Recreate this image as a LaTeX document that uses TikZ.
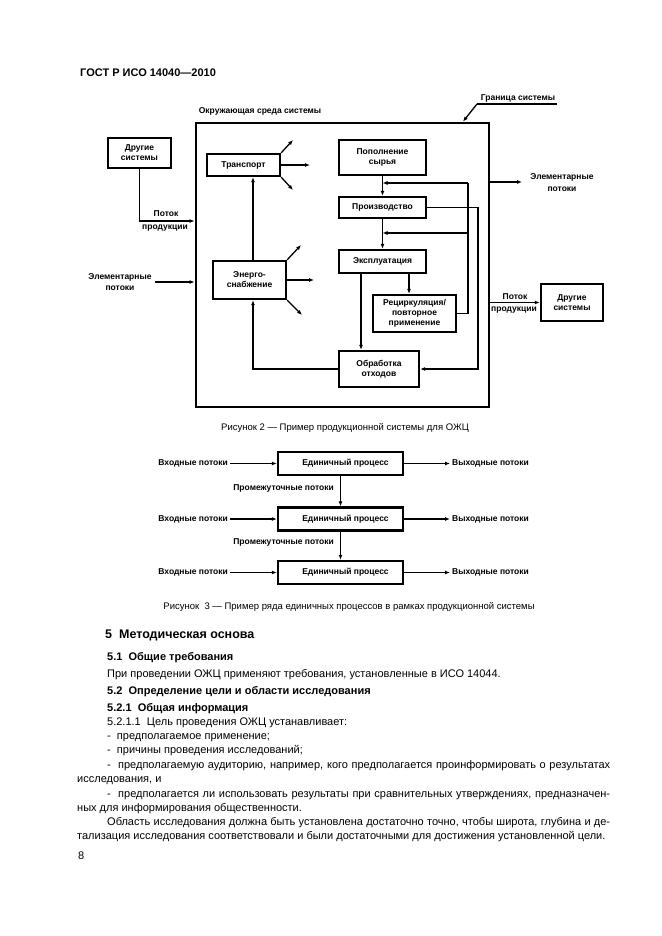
\documentclass[tikz,border=0pt]{standalone}
\usepackage{fontspec}
\setmainfont{Liberation Sans}
\usetikzlibrary{arrows.meta,calc}
\begin{document}
\begin{tikzpicture}[x=1pt,y=-1pt,
  blk/.style={draw, line width=2.3pt, inner sep=1pt, font=\fontsize{8.5}{10}\selectfont\bfseries, align=center},
  lbl/.style={inner sep=0pt, font=\fontsize{8.5}{11.5}\selectfont\bfseries, align=center},
  conn/.style={line width=1.3pt},
  arr/.style={conn, -{Latex[length=5pt,width=4pt]}},
  capt/.style={inner sep=0pt, font=\fontsize{9.5}{11}\selectfont},
  body/.style={inner sep=0pt, anchor=base west, font=\fontsize{11}{14}\selectfont},
  hd/.style={inner sep=0pt, anchor=base west, font=\fontsize{11}{14}\selectfont\bfseries},
]
\fill[white] (0,0) rectangle (661,936);
\useasboundingbox (0,0) rectangle (661,936);

% header
\node[hd] (hdr) at (80,77) {ГОСТ Р ИСО 14040—2010};

% ---------------- Figure 2 ----------------
\node[draw, line width=2.8pt, minimum width=293pt, minimum height=284pt, inner sep=0pt] (sys) at (342.5,265) {};
\node[lbl] (env) at (260,111) {Окружающая среда системы};
\node[lbl] (bnd) at (518,98) {Граница системы};
\coordinate (gb1) at (557,104);
\coordinate (gb2) at (477,104);
\coordinate (gbx) at (463,0);
\draw[conn] (gb1) -- (gb2);
\draw[arr] (gb2) -- (sys.north -| gbx);

\node[blk, minimum width=63pt, minimum height=30pt] (oth1) at (139.5,153) {Другие\\системы};
\node[blk, minimum width=73pt, minimum height=22pt] (transp) at (243.5,165) {Транспорт};
\node[blk, minimum width=73pt, minimum height=38pt] (energy) at (249.5,280) {Энерго-\\снабжение};
\node[blk, minimum width=87pt, minimum height=35pt] (supply) at (382.5,157.5) {Пополнение\\сырья};
\node[blk, minimum width=87pt, minimum height=21pt] (prod) at (382.5,207.5) {Производство};
\node[blk, minimum width=87pt, minimum height=23pt] (expl) at (382.5,261.5) {Эксплуатация};
\node[blk, minimum width=83pt, minimum height=37pt] (recyc) at (414.5,313.5) {Рециркуляция/\\повторное\\применение};
\node[blk, minimum width=80pt, minimum height=36pt] (waste) at (379,369) {Обработка\\отходов};
\node[blk, minimum width=62pt, minimum height=37pt] (oth2) at (572,302.5) {Другие\\системы};

% left product flow
\coordinate (yPL) at (0,221);
\draw[arr] (oth1.south) |- (sys.west |- yPL);
\node[lbl] (pl1) at (166,214) {Поток};
\node[lbl] (pl2) at (165,228) {продукции};

% left elementary flows
\node[lbl] (elLl) at (120,282) {Элементарные\\потоки};
\coordinate (elL) at (155,282);
\draw[arr] (elL) -- (sys.west |- elL);

% transport arrows
\coordinate (t1) at (293,140);
\coordinate (t2) at (310,165);
\coordinate (t3) at (293,190);
\draw[arr] (transp.north east) -- (t1);
\draw[arr] (transp.east) -- (t2);
\draw[arr] (transp.south east) -- (t3);

% energy arrows
\coordinate (e1) at (301,245);
\coordinate (e2) at (314,280);
\coordinate (e3) at (302,315);
\draw[arr] (energy.north east) -- (e1);
\draw[arr] (energy.east) -- (e2);
\draw[arr] (energy.south east) -- (e3);

% energy -> transport, waste -> energy
\coordinate (tl) at (253,0);
\draw[arr] (energy.north -| tl) -- (transp.south -| tl);
\draw[arr] (waste.west) -| (energy.south -| tl);

% chain
\draw[arr] (supply.south) -- (prod.north);
\draw[arr] (prod.south) -- (expl.north);
\coordinate (xr) at (409,0);
\coordinate (xw) at (361,0);
\draw[arr] (expl.south -| xr) -- (recyc.north -| xr);
\draw[arr] (expl.south -| xw) -- (waste.north -| xw);

% recycling loops
\coordinate (ly1) at (468,183);
\coordinate (ly2) at (468,233);
\draw[conn] (recyc.east) -| (ly1);
\draw[arr] (ly1) -- (ly1 -| supply.south);
\draw[arr] (ly2) -- (ly2 -| prod.south);

% production -> waste
\coordinate (rx2) at (478,0);
\draw[arr] (prod.east) -| (rx2 |- waste.east) -- (waste.east);

% right elementary flows
\coordinate (elR) at (522,182);
\draw[arr] (sys.east |- elR) -- (elR);
\node[lbl] (elRl) at (562,182.5) {Элементарные\\потоки};

% right product flow
\draw[arr] (sys.east |- oth2.west) -- (oth2.west);
\node[lbl] (pr1) at (515,296.5) {Поток};
\node[lbl] (pr2) at (514,310) {продукции};

\node[capt] (cap2) at (345,428) {Рисунок 2 — Пример продукционной системы для ОЖЦ};

% ---------------- Figure 3 ----------------
\node[blk, minimum width=125pt, minimum height=23pt] (p1) at (340.5,463.5) {\hspace{10pt}Единичный процесс};
\node[blk, minimum width=125pt, minimum height=23pt] (p2) at (340.5,519) {\hspace{10pt}Единичный процесс};
\node[blk, minimum width=125pt, minimum height=23pt] (p3) at (340.5,572.5) {\hspace{10pt}Единичный процесс};
\draw[arr] (p1.south) -- (p2.north);
\draw[arr] (p2.south) -- (p3.north);
\node[lbl, anchor=east] (m1) at (334,488) {Промежуточные потоки};
\node[lbl, anchor=east] (m2) at (334,542) {Промежуточные потоки};

\node[lbl, anchor=east] (i1) at (228,463.5) {Входные потоки};
\node[lbl, anchor=east] (i2) at (228,519) {Входные потоки};
\node[lbl, anchor=east] (i3) at (228,572.5) {Входные потоки};
\node[lbl, anchor=west] (o1) at (452,463.5) {Выходные потоки};
\node[lbl, anchor=west] (o2) at (452,519) {Выходные потоки};
\node[lbl, anchor=west] (o3) at (452,572.5) {Выходные потоки};
\draw[arr] ([xshift=2pt]i1.east) -- (p1.west);
\draw[arr] ([xshift=2pt]i2.east) -- (p2.west);
\draw[arr] ([xshift=2pt]i3.east) -- (p3.west);
\draw[arr] (p1.east) -- ([xshift=-2pt]o1.west);
\draw[arr] (p2.east) -- ([xshift=-2pt]o2.west);
\draw[arr] (p3.east) -- ([xshift=-2pt]o3.west);

\node[capt] (cap3) at (349,607) {Рисунок\ \ 3 — Пример ряда единичных процессов в рамках продукционной системы};

% ---------------- Text ----------------
\node[hd, font=\fontsize{12.5}{14}\selectfont\bfseries] (h5) at (105,638.5) {5\ \ Методическая основа};
\node[hd] (h51) at (107,660) {5.1\ \ Общие требования};
\node[body] (t1l) at (107,677) {При проведении ОЖЦ применяют требования, установленные в ИСО 14044.};
\node[hd] (h52) at (107,694) {5.2\ \ Определение цели и области исследования};
\node[hd] (h521) at (107,711) {5.2.1\ \ Общая информация};
\node[body] (l1) at (107,725) {5.2.1.1\ \ Цель проведения ОЖЦ устанавливает:};
\node[body] (l2) at (107,739) {-\ \ предполагаемое применение;};
\node[body] (l3) at (107,753) {-\ \ причины проведения исследований;};
\node[body] (l4) at (107,768) {\makebox[503pt][s]{-\ \ предполагаемую аудиторию, например, кого предполагается проинформировать о результатах}};
\node[body] (l5) at (77,782) {исследования, и};
\node[body] (l6) at (107,797) {\makebox[503pt][s]{-\ \ предполагается ли использовать результаты при сравнительных утверждениях, предназначен-}};
\node[body] (l7) at (77,811) {ных для информирования общественности.};
\node[body] (l8) at (107,825) {\makebox[503pt][s]{Область исследования должна быть установлена достаточно точно, чтобы широта, глубина и де-}};
\node[body] (l9) at (77,839) {тализация исследования соответствовали и были достаточными для достижения установленной цели.};
\node[body] (pg) at (78,859) {8};
\end{tikzpicture}
\end{document}
